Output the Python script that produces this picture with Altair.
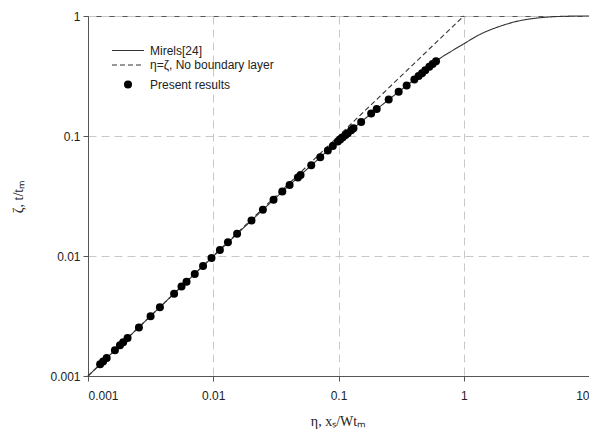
import altair as alt
import pandas as pd

series_names = ["Mirels[24]", "η=ζ, No boundary layer", "Present results"]

mirels_x = [0.001, 0.003, 0.01, 0.02, 0.03, 0.05, 0.07, 0.1, 0.15, 0.2, 0.3, 0.4,
            0.5, 0.6, 0.8, 1.0, 1.34, 1.94, 2.8, 3.8, 4.85, 6.4, 8.0, 10.0]
mirels_y = [0.001, 0.003, 0.00993, 0.0196, 0.0291, 0.0475, 0.0651, 0.091, 0.13, 0.166,
            0.232, 0.294, 0.358, 0.42, 0.51, 0.586, 0.70, 0.82, 0.914, 0.96, 0.982,
            0.995, 0.999, 1.0]

ideal_x = [0.001, 1.0]
ideal_y = [0.001, 1.0]

present_x = [0.00125, 0.00132, 0.00141, 0.00164, 0.0018, 0.00191, 0.00207, 0.00255,
             0.00316, 0.00375, 0.00487, 0.00558, 0.00612, 0.00712, 0.00829, 0.00968,
             0.0113, 0.0131, 0.0155, 0.0202, 0.0249, 0.0303, 0.0356, 0.0407, 0.0474,
             0.0498, 0.0606, 0.0715, 0.0822, 0.0901, 0.0987, 0.1031, 0.1082, 0.1137,
             0.1186, 0.1263, 0.1317, 0.1517, 0.1823, 0.2019, 0.2517, 0.3022, 0.3501,
             0.4033, 0.4362, 0.4644, 0.4933, 0.5311, 0.5642, 0.6005]
present_y = [0.00125, 0.00132, 0.00141, 0.00164, 0.0018, 0.00191, 0.00207, 0.00254,
             0.00315, 0.00374, 0.00485, 0.00556, 0.00609, 0.00708, 0.00824, 0.00961,
             0.0112, 0.0130, 0.0153, 0.0198, 0.0243, 0.0294, 0.0344, 0.0391, 0.0450,
             0.0473, 0.0570, 0.0665, 0.0756, 0.0824, 0.0898, 0.0933, 0.0974, 0.1018,
             0.1056, 0.1118, 0.1159, 0.131, 0.154, 0.168, 0.201, 0.234, 0.264,
             0.296, 0.316, 0.334, 0.353, 0.377, 0.398, 0.420]

x_ticks = [0.001, 0.01, 0.1, 1, 10]
y_ticks = [0.001, 0.01, 0.1, 1]

lines_df = pd.DataFrame({
    "x": mirels_x + ideal_x,
    "y": mirels_y + ideal_y,
    "series": [series_names[0]] * len(mirels_x) + [series_names[1]] * len(ideal_x),
})
pts_df = pd.DataFrame({"x": present_x, "y": present_y, "series": series_names[2]})

x_enc = alt.X(
    "x:Q",
    scale=alt.Scale(type="log", domain=[0.001, 10], nice=False),
    axis=alt.Axis(values=x_ticks, format="~g", title="η, xₛ/Wtₘ",
                  titleX=250, titleY=45, titleBaseline="middle", labelPadding=9),
)
y_enc = alt.Y(
    "y:Q",
    scale=alt.Scale(type="log", domain=[0.001, 1], nice=False),
    axis=alt.Axis(values=y_ticks, format="~g", title="ζ, t/tₘ",
                  titleX=-70, titleY=180, titleBaseline="middle", titleAlign="center",
                  labelPadding=3),
)

common = dict(
    title=None, orient="none", padding=0,
    labelFont="Liberation Sans", labelFontSize=12, labelColor="#222",
    labelOffset=16, rowPadding=2.5, symbolSize=64,
)
line_legend = alt.Legend(
    legendX=34, legendY=28.5, symbolType="M-4,0L4,0",
    symbolStrokeColor="#333", symbolStrokeWidth=1.1, symbolFillColor="transparent",
    **common,
)
point_legend = alt.Legend(
    legendX=34, legendY=62.5, symbolType="circle",
    symbolFillColor="#000", symbolStrokeColor="#000", symbolStrokeWidth=0,
    **common,
)

lines = alt.Chart(lines_df).mark_line(color="#333", strokeWidth=1.1, interpolate="monotone").encode(
    x=x_enc, y=y_enc,
    strokeDash=alt.StrokeDash(
        "series:N",
        scale=alt.Scale(domain=series_names[:2], range=[[1, 0], [5, 3]]),
        legend=line_legend,
    ),
    detail="series:N",
)

points = alt.Chart(pts_df).mark_point(filled=True, color="#000", opacity=1, size=64).encode(
    x=x_enc, y=y_enc,
    shape=alt.Shape(
        "series:N",
        scale=alt.Scale(domain=series_names[2:], range=["circle"]),
        legend=point_legend,
    ),
)

chart = alt.layer(lines, points).properties(
    width=501, height=360,
    autosize=alt.AutoSizeParams(type="none"),
    padding={"left": 80, "top": 8, "right": 0, "bottom": 57},
).configure_view(
    stroke="#555", strokeWidth=1
).configure_axis(
    gridColor="#c8c8c8", gridDash=[8, 5], gridWidth=1,
    domainColor="#555", tickColor="#555", tickSize=5,
    labelFont="Liberation Sans", labelFontSize=12, labelColor="#222",
    titleFont="Liberation Serif", titleFontSize=14, titleColor="#222", titleFontWeight="normal",
)

chart.save("out.html", embed_options={"renderer": "svg", "actions": False})
